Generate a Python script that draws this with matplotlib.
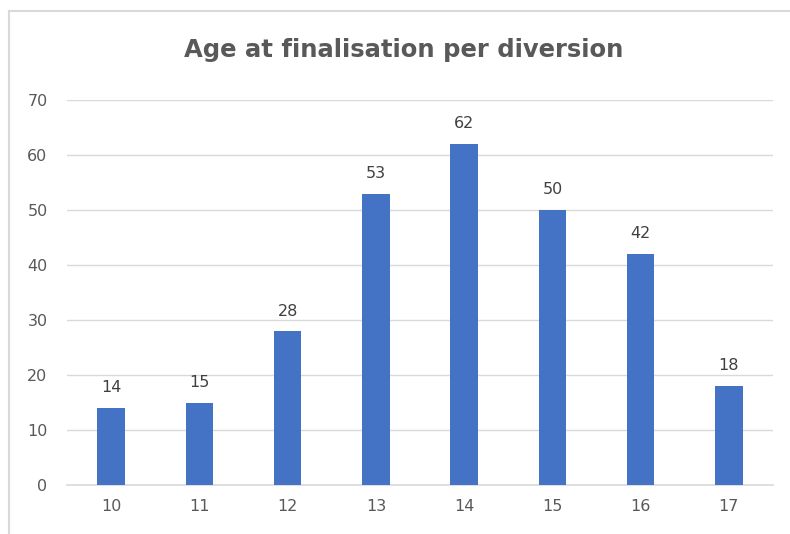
import matplotlib
matplotlib.use("Agg")
import matplotlib.pyplot as plt
from matplotlib.lines import Line2D

ages = ["10", "11", "12", "13", "14", "15", "16", "17"]
counts = [14, 15, 28, 53, 62, 50, 42, 18]
yticks = [0, 10, 20, 30, 40, 50, 60, 70]

W, H = 790, 534
fig = plt.figure(figsize=(W / 100, H / 100), dpi=100)
fig.patch.set_facecolor("white")

# chart border (left & top visible)
bx, by = 8.5 / W, 1 - 10.5 / H
fig.add_artist(Line2D([bx, bx], [0, by], transform=fig.transFigure, color="#D9D9D9", linewidth=1.5))
fig.add_artist(Line2D([bx, 1], [by, by], transform=fig.transFigure, color="#D9D9D9", linewidth=1.5))

ax = fig.add_axes([67 / W, 1 - 485 / H, (773 - 67) / W, (485 - 100) / H])
x = range(len(ages))
bars = ax.bar(x, counts, width=0.31, color="#4472C4", zorder=3)
ax.set_xlim(-0.5, len(ages) - 0.5)
ax.set_ylim(0, 70)
ax.set_yticks(yticks)
ax.set_xticks(list(x))
ax.set_xticklabels(ages)
for s in ax.spines.values():
    s.set_visible(False)
ax.grid(axis="y", color="#D9D9D9", linewidth=1, zorder=0)
ax.axhline(0, color="#D9D9D9", linewidth=1.2, zorder=2, clip_on=False)
ax.tick_params(length=0, labelsize=11.5, labelcolor="#595959")
ax.tick_params(axis="y", pad=14)
ax.tick_params(axis="x", pad=10)
for xi, v in zip(x, counts):
    ax.annotate(str(v), (xi, v), xytext=(0, 9), textcoords="offset points",
                ha="center", va="bottom", fontsize=11.5, color="#404040")

fig.text(404 / W, 1 - 50 / H, "Age at finalisation per diversion", ha="center", va="center",
         fontsize=17.5, fontweight="bold", color="#595959")

fig.savefig("out.png", dpi=100)
